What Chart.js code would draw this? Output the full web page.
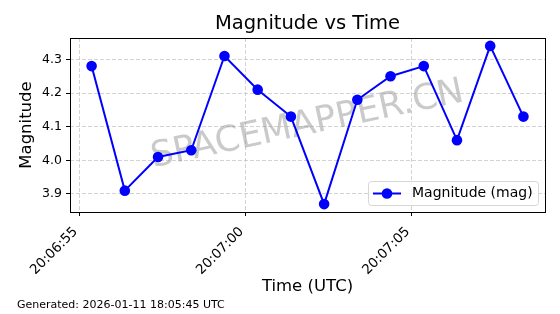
<!DOCTYPE html>
<html>
<head>
<meta charset="utf-8">
<script src="https://cdn.jsdelivr.net/npm/chart.js@4/dist/chart.umd.min.js"></script>
<style>
  html, body { margin: 0; padding: 0; background: #fff; }
  #wrap { width: 560px; height: 314px; position: relative; }
</style>
</head>
<body>
<div id="wrap"><canvas id="myChart" width="560" height="314"></canvas></div>
<script>
// observation times (UTC) and measured magnitudes
const times = ['20:06:55.36', '20:06:56.36', '20:06:57.36', '20:06:58.36', '20:06:59.36',
               '20:07:00.36', '20:07:01.36', '20:07:02.36', '20:07:03.36', '20:07:04.36',
               '20:07:05.36', '20:07:06.36', '20:07:07.36', '20:07:08.36'];
const magnitudes = [4.28, 3.91, 4.01, 4.03, 4.31, 4.21, 4.13, 3.87, 4.18, 4.25, 4.28, 4.06, 4.34, 4.13];
const yTicks = [3.9, 4.0, 4.1, 4.2, 4.3];

const FONT = "'DejaVu Sans', sans-serif";

function toSeconds(t) {
    const p = t.split(':');
    return (+p[0]) * 3600 + (+p[1]) * 60 + parseFloat(p[2]);
}
function fmtTime(s) {
    s = Math.round(s);
    const h = Math.floor(s / 3600), m = Math.floor((s % 3600) / 60), sec = s % 60;
    const pad = n => String(n).padStart(2, '0');
    return pad(h) + ':' + pad(m) + ':' + pad(sec);
}

const points = times.map((t, i) => ({ x: toSeconds(t), y: magnitudes[i] }));
const xs = points.map(p => p.x);
const xMin = Math.min(...xs), xMax = Math.max(...xs);
const xPad = (xMax - xMin) * 0.05;
const yMin = Math.min(...magnitudes), yMax = Math.max(...magnitudes);
const yPad = (yMax - yMin) * 0.05;

const extras = {
    id: 'extras',
    beforeDatasetsDraw(chart) {
        const { ctx, chartArea: a } = chart;
        ctx.save();
        ctx.translate((a.left + a.right) / 2, (a.top + a.bottom) / 2);
        ctx.rotate(-12 * Math.PI / 180);
        ctx.font = '35.5px ' + FONT;
        ctx.fillStyle = 'rgba(150,150,150,0.5)';
        ctx.textAlign = 'center';
        ctx.textBaseline = 'middle';
        ctx.fillText('SPACEMAPPER.CN', 0, 0);
        ctx.restore();
    },
    afterDraw(chart) {
        const { ctx, chartArea: a } = chart;
        ctx.save();
        // frame
        ctx.strokeStyle = '#000';
        ctx.lineWidth = 1;
        ctx.strokeRect(Math.round(a.left) + 0.5, Math.round(a.top) + 0.5,
                       Math.round(a.right - a.left), Math.round(a.bottom - a.top));
        // title
        ctx.fillStyle = '#000';
        ctx.font = '19.5px ' + FONT;
        ctx.textAlign = 'center';
        ctx.textBaseline = 'middle';
        ctx.fillText('Magnitude vs Time', (a.left + a.right) / 2, 24);
        // footer
        ctx.font = '11px ' + FONT;
        ctx.textAlign = 'left';
        ctx.fillText('Generated: 2026-01-11 18:05:45 UTC', 17, 305);
        // legend
        const ds = chart.data.datasets[0];
        const bx = 368, by = 181, bw = 170, bh = 24;
        ctx.beginPath();
        ctx.roundRect(bx + 0.5, by + 0.5, bw, bh, 3);
        ctx.fillStyle = 'rgba(255,255,255,0.8)';
        ctx.fill();
        ctx.strokeStyle = '#d6d6d6';
        ctx.stroke();
        const ly = by + bh / 2 + 0.5;
        ctx.beginPath();
        ctx.moveTo(373, ly);
        ctx.lineTo(401, ly);
        ctx.strokeStyle = ds.borderColor;
        ctx.lineWidth = ds.borderWidth;
        ctx.stroke();
        ctx.beginPath();
        ctx.arc(387, ly, ds.pointRadius, 0, Math.PI * 2);
        ctx.fillStyle = ds.pointBackgroundColor;
        ctx.fill();
        ctx.fillStyle = '#000';
        ctx.font = '14px ' + FONT;
        ctx.textBaseline = 'middle';
        ctx.fillText(ds.label, 412, ly);
        ctx.restore();
    }
};

const gridStyle = {
    color: 'rgba(176,176,176,0.7)',
    lineWidth: 0.8,
    tickColor: '#000',
    tickLength: 4,
    tickBorderDash: [],
    tickWidth: 1
};
const borderStyle = { display: false, dash: [4, 2] };

new Chart(document.getElementById('myChart').getContext('2d'), {
    type: 'line',
    data: {
        datasets: [{
            label: 'Magnitude (mag)',
            data: points,
            borderColor: '#0000ff',
            backgroundColor: '#0000ff',
            pointBackgroundColor: '#0000ff',
            pointBorderColor: '#0000ff',
            borderWidth: 2,
            pointRadius: 5.3,
            pointBorderWidth: 0,
            tension: 0
        }]
    },
    options: {
        responsive: false,
        animation: false,
        layout: { padding: { top: 38, right: 15, bottom: 0, left: 0 } },
        plugins: {
            legend: { display: false },
            title: { display: false },
            tooltip: { enabled: false }
        },
        scales: {
            x: {
                type: 'linear',
                min: xMin - xPad,
                max: xMax + xPad,
                afterFit(scale) { scale.height = 102; },
                border: borderStyle,
                grid: gridStyle,
                ticks: {
                    stepSize: 5,
                    includeBounds: false,
                    autoSkip: false,
                    maxRotation: 45,
                    minRotation: 45,
                    padding: 8,
                    labelOffset: -4,
                    color: '#000',
                    font: { family: FONT, size: 13.5 },
                    callback: v => fmtTime(v)
                },
                title: {
                    display: true,
                    text: 'Time (UTC)',
                    color: '#000',
                    font: { family: FONT, size: 16.5 },
                    padding: { top: 0, bottom: 17 }
                }
            },
            y: {
                min: yMin - yPad,
                max: yMax + yPad,
                afterFit(scale) { scale.width = 70; },
                afterBuildTicks(scale) { scale.ticks = yTicks.map(v => ({ value: v })); },
                border: borderStyle,
                grid: gridStyle,
                ticks: {
                    padding: 4,
                    color: '#000',
                    font: { family: FONT, size: 12.5 },
                    callback: v => v.toFixed(1)
                },
                title: {
                    display: true,
                    text: 'Magnitude',
                    color: '#000',
                    font: { family: FONT, size: 16.5 },
                    padding: { top: 17, bottom: 0 }
                }
            }
        }
    },
    plugins: [extras]
});
</script>
</body>
</html>
